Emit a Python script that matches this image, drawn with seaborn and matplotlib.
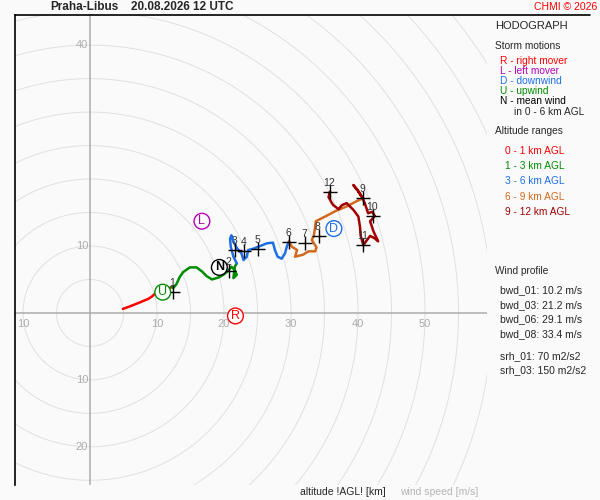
import numpy as np
import pandas as pd
import matplotlib
matplotlib.use("Agg")
import matplotlib.pyplot as plt
import seaborn as sns

# hodograph trace (u, v in m/s) per altitude layer
layer_names = ["0 - 1 km AGL", "1 - 3 km AGL", "3 - 6 km AGL", "6 - 9 km AGL", "9 - 12 km AGL"]
layer_colors = ["#ff0000", "#008c00", "#1e6ee6", "#d2691e", "#a00000"]

u_0_1 = [4.9, 6.0, 7.5, 8.7, 9.3, 9.6, 10.4, 11.3, 12.2]
v_0_1 = [0.6, 1.0, 1.6, 2.1, 2.5, 2.8, 3.1, 3.4, 3.9]

u_1_3 = [12.2, 12.4, 12.9, 13.4, 13.9, 14.9, 15.9, 16.7, 17.4, 18.2, 19.2, 19.9,
         20.5, 21.1, 21.6, 21.9, 21.4, 21.6, 21.9]
v_1_3 = [3.9, 3.7, 4.3, 5.4, 6.1, 6.8, 6.8, 6.2, 5.5, 5.0, 5.3, 5.7,
         6.2, 6.9, 6.4, 5.7, 5.2, 6.9, 7.4]

u_3_6 = [21.9, 21.4, 21.0, 20.9, 21.1, 21.4, 21.9, 22.6, 22.9, 23.4, 23.6, 24.4,
         25.4, 26.4, 27.3, 27.6, 28.0, 28.6, 29.1, 29.4, 29.7]
v_3_6 = [7.4, 8.4, 9.9, 11.1, 11.6, 10.7, 9.7, 8.9, 7.9, 8.4, 9.4, 9.6,
         10.0, 10.4, 10.5, 9.4, 8.4, 8.1, 8.9, 10.0, 10.7]

u_6_9 = [29.7, 30.1, 30.9, 30.6, 31.8, 32.6, 33.6, 33.8, 33.1, 33.4, 33.6, 33.7,
         35.1, 36.6, 38.3, 39.8, 40.7]
v_6_9 = [10.7, 9.9, 9.4, 8.4, 8.7, 9.2, 9.2, 9.8, 10.9, 11.5, 12.9, 13.7,
         14.4, 15.2, 15.9, 16.7, 17.1]

u_9_12 = [40.7, 40.0, 39.3, 39.9, 40.6, 41.0, 41.5, 42.1, 42.5, 42.1, 41.8, 42.3,
          43.0, 42.4, 41.8, 41.2, 40.8, 40.4, 40.3, 40.05, 39.3, 38.3, 37.6, 37.1,
          36.3, 36.1, 35.6, 35.8]
v_9_12 = [17.1, 18.2, 19.1, 18.4, 17.3, 16.4, 14.9, 15.1, 14.5, 14.0, 13.7, 12.2,
          10.7, 11.2, 11.5, 10.7, 10.1, 11.5, 12.8, 14.4, 15.4, 16.4, 16.1, 15.5,
          16.1, 16.4, 17.3, 18.1]

# altitude marks (km AGL)
km_labels = ["1", "2", "3", "4", "5", "6", "7", "8", "9", "10", "11", "12"]
km_u = [12.4, 20.8, 21.7, 23.0, 25.1, 29.7, 32.1, 34.1, 40.8, 42.2, 40.8, 35.8]
km_v = [3.1, 6.2, 9.4, 9.3, 9.6, 10.6, 10.4, 11.5, 17.1, 14.5, 10.1, 18.1]

# storm motions
storm_letters = ["R", "L", "D", "U", "N"]
storm_u = [21.7, 16.7, 36.4, 10.85, 19.3]
storm_v = [-0.45, 13.7, 12.6, 3.1, 6.8]
storm_colors = ["#ff0000", "#b400b4", "#1e6ee6", "#008c00", "#000000"]
storm_desc = ["R - right mover", "L - left mover", "D - downwind", "U - upwind", "N - mean wind"]

# wind profile parameters
profile_lines = ["bwd_01: 10.2 m/s", "bwd_03: 21.2 m/s", "bwd_06: 29.1 m/s", "bwd_08: 33.4 m/s"]
srh_lines = ["srh_01: 70 m2/s2", "srh_03: 150 m2/s2"]

x_ticks = [-10, 10, 20, 30, 40, 50]
y_ticks = [40, 10, -10, -20]

bg = "#fafafa"
sns.set_style("white")
plt.rcParams["font.family"] = ["Liberation Sans", "DejaVu Sans"]

frames = []
for name, u, v in zip(layer_names, [u_0_1, u_1_3, u_3_6, u_6_9, u_9_12],
                      [v_0_1, v_1_3, v_3_6, v_6_9, v_9_12]):
    frames.append(pd.DataFrame({"u": u, "v": v, "layer": name}))
trace = pd.concat(frames, ignore_index=True)

fig = plt.figure(figsize=(6, 5), dpi=100, facecolor=bg)
W, H = 600.0, 500.0
ax = fig.add_axes([15 / W, 1 - 485 / H, 472 / W, 470 / H], facecolor=bg)
ax.set_xlim(-11.2, 59.25)
ax.set_ylim(-25.7, 44.5)

# range rings every 5 m/s
t = np.linspace(0, 2 * np.pi, 400)
for r in range(5, 90, 5):
    ax.plot(r * np.cos(t), r * np.sin(t), color="#e0e0e0", lw=0.7, zorder=1)
ax.axhline(0, color="#acacac", lw=1.1, zorder=2)
ax.axvline(0, color="#acacac", lw=1.1, zorder=2)

for x in x_ticks:
    ax.text(x, -0.9, str(abs(x)), color="#acacac", fontsize=8, ha="center", va="top", zorder=3)
for y in y_ticks:
    ax.text(-0.3, y, str(abs(y)), color="#acacac", fontsize=8, ha="right", va="center", zorder=3)

sns.lineplot(data=trace, x="u", y="v", hue="layer", palette=dict(zip(layer_names, layer_colors)),
             sort=False, estimator=None, lw=1.8, legend=False, ax=ax, zorder=4)

marks = pd.DataFrame({"u": km_u, "v": km_v})
sns.scatterplot(data=marks, x="u", y="v", marker="+", s=110, color="black", linewidth=1.0,
                legend=False, ax=ax, zorder=5)
for lab, u, v in zip(km_labels, km_u, km_v):
    ax.text(u - 0.1, v + 1.35, lab, fontsize=7.5, color="#333333", ha="center", va="center", zorder=6)

for lab, u, v, c in zip(storm_letters, storm_u, storm_v, storm_colors):
    ax.text(u, v, lab, fontsize=9, color=c, ha="center", va="center", zorder=7,
            fontweight="bold" if lab == "N" else "normal",
            bbox=dict(boxstyle="circle,pad=0.15", fc="white", ec=c, lw=1.0))

ax.set_xticks([])
ax.set_yticks([])
ax.set_xlabel("")
ax.set_ylabel("")
for side in ["right", "bottom", "top"]:
    ax.spines[side].set_visible(False)
ax.spines["left"].set_color("black")
ax.spines["left"].set_linewidth(1.2)

# top frame line across the figure
fig.add_artist(plt.Line2D([15 / W, 590 / W], [1 - 15 / H, 1 - 15 / H], color="black", lw=1.2))


def ftext(x, y, s, **kw):
    fig.text(x / W, 1 - y / H, s, va="center", **kw)


ftext(50, 7, "Praha-Libus", fontsize=8.5, fontweight="bold")
ftext(131, 7, "20.08.2026 12 UTC", fontsize=8.5, fontweight="bold")
ftext(597, 7, "CHMI © 2026", fontsize=7.5, color="#ff0000", ha="right")

ftext(495, 26, "HODOGRAPH", fontsize=8)
ftext(495, 46, "Storm motions", fontsize=7.3)
for i, (d, c) in enumerate(zip(storm_desc, storm_colors)):
    ftext(500, 61 + i * 10, d, fontsize=7.3, color=c)
ftext(514, 112, "in 0 - 6 km AGL", fontsize=7.3)
ftext(495, 131, "Altitude ranges", fontsize=7.3)
for i, (n, c) in enumerate(zip(layer_names, layer_colors)):
    ftext(505, 151 + i * 15.2, n, fontsize=7.3, color=c)

ftext(495, 271, "Wind profile", fontsize=7.3)
for i, s in enumerate(profile_lines):
    ftext(500, 290 + i * 14.7, s, fontsize=7.5)
for i, s in enumerate(srh_lines):
    ftext(500, 356 + i * 14.5, s, fontsize=7.5)

ftext(300, 492, "altitude !AGL! [km]", fontsize=7.5)
ftext(400, 492, "wind speed [m/s]", fontsize=7.5, color="#b4b4b4")

fig.savefig("out.png", dpi=100, facecolor=bg)
